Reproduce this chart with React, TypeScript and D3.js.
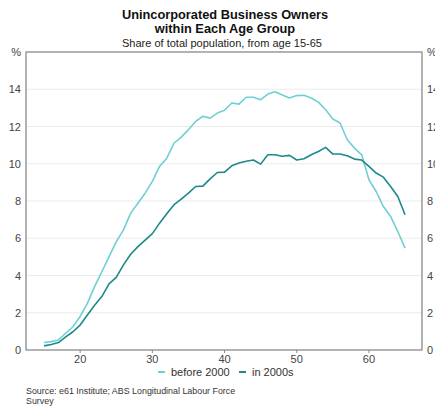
import React from "react";
import * as d3 from "d3";

const ages: number[] = d3.range(15, 66);
const before2000: number[] = [
  0.4, 0.45, 0.54, 0.9, 1.25, 1.8, 2.5, 3.4, 4.2, 5.0,
  5.82, 6.45, 7.35, 7.88, 8.42, 9.05, 9.86, 10.3, 11.1, 11.43,
  11.83, 12.27, 12.55, 12.45, 12.72, 12.87, 13.26, 13.2, 13.57, 13.57,
  13.44, 13.74, 13.87, 13.69, 13.53, 13.66, 13.68, 13.53, 13.31, 12.9,
  12.4, 12.19, 11.29, 10.84, 10.48, 9.14, 8.51, 7.7, 7.17, 6.36,
  5.47,
];
const in2000s: number[] = [
  0.22, 0.3, 0.4, 0.7, 0.98, 1.34, 1.88, 2.4, 2.87, 3.55,
  3.9, 4.57, 5.14, 5.55, 5.9, 6.25, 6.81, 7.31, 7.8, 8.1,
  8.42, 8.78, 8.8, 9.19, 9.53, 9.55, 9.89, 10.04, 10.13, 10.2,
  9.98, 10.48, 10.48, 10.4, 10.45, 10.2, 10.27, 10.48, 10.66, 10.88,
  10.52, 10.52, 10.43, 10.25, 10.2, 9.86, 9.5, 9.28, 8.78, 8.24,
  7.26,
];
const seriesNames: string[] = ["before 2000", "in 2000s"];
const seriesColors: string[] = ["#6fd0d4", "#1b8a88"];
const yTicks: number[] = [0, 2, 4, 6, 8, 10, 12, 14];
const xTicks: number[] = [20, 30, 40, 50, 60];
const title: string[] = ["Unincorporated Business Owners", "within Each Age Group"];
const subtitle = "Share of total population, from age 15-65";
const source: string[] = ["Source: e61 Institute; ABS Longitudinal Labour Force", "Survey"];

export default function App() {
  const W = 435, H = 407;
  const left = 26, right = 422, top = 52, bottom = 350;
  const x = d3.scaleLinear().domain([12.5, 67.35]).range([left, right]);
  const y = d3.scaleLinear().domain([0, 16]).range([bottom, top]);
  const line = d3
    .line<number>()
    .x((_, i) => x(ages[i]))
    .y((d) => y(d));
  const font = "Liberation Sans, Arial, sans-serif";
  const series = [before2000, in2000s];
  return (
    <svg
      width={W}
      height={H}
      style={{ position: "absolute", left: 0, top: 0, background: "#fff" }}
      fontFamily={font}
    >
      <rect x={0} y={0} width={W} height={H} fill="#fff" />
      <text x={225} y={19} textAnchor="middle" fontSize={12.8} fontWeight="bold" fill="#111">
        {title[0]}
      </text>
      <text x={225} y={33} textAnchor="middle" fontSize={12.8} fontWeight="bold" fill="#111">
        {title[1]}
      </text>
      <text x={222} y={47} textAnchor="middle" fontSize={11} fill="#222">
        {subtitle}
      </text>
      {yTicks.map((t) =>
        t > 0 ? (
          <line key={"g" + t} x1={left} x2={right} y1={y(t)} y2={y(t)} stroke="#ebebeb" strokeWidth={1} />
        ) : null
      )}
      {series.map((s, i) => (
        <path key={i} d={line(s) || ""} fill="none" stroke={seriesColors[i]} strokeWidth={1.6} strokeLinejoin="round" />
      ))}
      <rect x={left} y={top} width={right - left} height={bottom - top} fill="none" stroke="#8a8a8a" strokeWidth={1.3} />
      {yTicks.map((t) => (
        <g key={"yt" + t}>
          <text x={21} y={y(t) + 4} textAnchor="end" fontSize={11} fill="#444">
            {t}
          </text>
          <text x={427} y={y(t) + 4} textAnchor="start" fontSize={11} fill="#444">
            {t}
          </text>
        </g>
      ))}
      <text x={21} y={y(16) + 4} textAnchor="end" fontSize={11} fill="#444">%</text>
      <text x={427} y={y(16) + 4} textAnchor="start" fontSize={11} fill="#444">%</text>
      {xTicks.map((t) => (
        <g key={"xt" + t}>
          <line x1={x(t)} x2={x(t)} y1={bottom} y2={bottom + 3} stroke="#8a8a8a" />
          <text x={x(t)} y={363} textAnchor="middle" fontSize={11} fill="#444">
            {t}
          </text>
        </g>
      ))}
      {seriesNames.map((n, i) => {
        const lx = i === 0 ? 158 : 239;
        return (
          <g key={"lg" + i}>
            <line x1={lx} x2={lx + 7} y1={372} y2={372} stroke={seriesColors[i]} strokeWidth={2} />
            <text x={lx + 13} y={376} fontSize={11} fill="#333">
              {n}
            </text>
          </g>
        );
      })}
      <text x={26} y={394} fontSize={8.9} fill="#333">{source[0]}</text>
      <text x={26} y={404} fontSize={8.9} fill="#333">{source[1]}</text>
    </svg>
  );
}
